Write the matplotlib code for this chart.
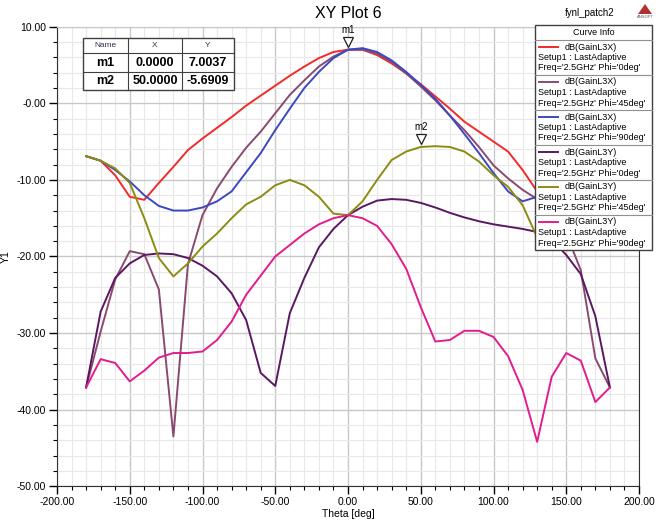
import numpy as np
import matplotlib
matplotlib.use("Agg")
import matplotlib.pyplot as plt
from matplotlib.patches import Rectangle, Polygon
from matplotlib.transforms import offset_copy

plt.rcParams['font.family'] = ['Liberation Sans', 'DejaVu Sans']

# theta sample points [deg]
theta = [-180, -170, -160, -150, -140, -130, -120, -110, -100, -90,
         -80, -70, -60, -50, -40, -30, -20, -10, 0, 10,
         20, 30, 40, 50, 60, 70, 80, 90, 100, 110,
         120, 130, 140, 150, 160, 170, 180]

# dB(GainL3X) Phi=0deg
l3x_0 = [-6.9, -7.5, -9.4, -12.2, -12.6, -10.4, -8.3, -6.1, -4.6, -3.2,
         -1.8, -0.3, 1.0, 2.3, 3.6, 4.8, 5.9, 6.7, 7.0, 7.0,
         6.3, 5.2, 3.9, 2.5, 0.9, -0.7, -2.4, -3.7, -5.0, -6.3,
         -8.7, -11.5, -10.2, -9.0, -8.0, -7.4, -7.0]
# dB(GainL3X) Phi=45deg
l3x_45 = [-37.1, -29.8, -23.0, -19.3, -19.7, -24.3, -43.5, -21.0, -14.6, -11.1,
          -8.3, -5.8, -3.7, -1.3, 1.1, 3.0, 4.8, 6.1, 7.0, 7.0,
          6.5, 5.4, 3.9, 2.2, 0.4, -1.6, -3.5, -5.7, -8.1, -9.8,
          -11.3, -12.5, -14.0, -17.0, -21.8, -33.3, -37.1]
# dB(GainL3X) Phi=90deg
l3x_90 = [-6.9, -7.5, -8.7, -10.2, -12.0, -13.4, -14.0, -14.0, -13.6, -12.8,
          -11.5, -9.0, -6.5, -3.5, -0.7, 2.0, 4.1, 5.9, 7.0, 7.2,
          6.7, 5.6, 4.1, 2.4, 0.6, -1.6, -4.0, -6.5, -9.1, -11.5,
          -12.8, -12.2, -11.0, -10.0, -9.0, -8.0, -7.0]
# dB(GainL3Y) Phi=0deg
l3y_0 = [-37.1, -27.2, -22.8, -20.9, -19.8, -19.6, -19.7, -20.2, -21.2, -22.6,
         -24.8, -28.3, -35.2, -36.9, -27.4, -22.8, -18.8, -16.4, -14.6, -13.5,
         -12.7, -12.5, -12.6, -13.0, -13.6, -14.3, -14.9, -15.4, -15.8, -16.1,
         -16.4, -16.8, -17.8, -19.8, -22.3, -27.8, -37.1]
# dB(GainL3Y) Phi=45deg
l3y_45 = [-6.9, -7.5, -8.5, -10.4, -15.0, -20.2, -22.6, -20.9, -18.7, -17.0,
          -15.0, -13.2, -12.2, -10.7, -10.0, -10.7, -12.2, -14.4, -14.6, -12.8,
          -10.0, -7.4, -6.3, -5.7, -5.6, -5.7, -6.3, -7.6, -9.4, -10.9,
          -13.3, -17.5, -15.0, -12.0, -9.5, -7.5, -7.0]
# dB(GainL3Y) Phi=90deg
l3y_90 = [-37.1, -33.4, -33.9, -36.3, -34.9, -33.2, -32.6, -32.6, -32.4, -30.9,
          -28.5, -25.0, -22.5, -20.0, -18.5, -17.0, -15.8, -15.0, -14.6, -15.0,
          -16.0, -18.4, -21.6, -26.6, -31.1, -30.9, -29.7, -29.7, -30.5, -33.0,
          -37.4, -44.2, -35.7, -32.6, -33.6, -39.0, -37.1]

series = [l3x_0, l3x_45, l3x_90, l3y_0, l3y_45, l3y_90]
names = ['dB(GainL3X)', 'dB(GainL3X)', 'dB(GainL3X)',
         'dB(GainL3Y)', 'dB(GainL3Y)', 'dB(GainL3Y)']
phis = ['0deg', '45deg', '90deg', '0deg', '45deg', '90deg']
colors = ['#F22A2A', '#8A4A70', '#3C48C2', '#5A1862', '#8C8C12', '#E31C8E']

# markers
mk_names = ['m1', 'm2']
mk_x = [0.0, 50.0]
mk_y = [7.0037, -5.6909]

xticks = [-200, -150, -100, -50, 0, 50, 100, 150, 200]
xticklabels = ['-200.00', '-150.00', '-100.00', '-50.00', '0.00',
               '50.00', '100.00', '150.00', '200.00']
yticks = [10, 0, -10, -20, -30, -40, -50]
yticklabels = ['10.00', '-0.00', '-10.00', '-20.00', '-30.00', '-40.00', '-50.00']

W, H = 656, 523
fig = plt.figure(figsize=(W / 100, H / 100), dpi=100)


def fp(x, y):
    # pixel (top-left origin) -> figure fraction
    return x / W, 1 - y / H


ax = fig.add_axes([57 / W, 1 - 486.3 / H, 582 / W, 459.6 / H])
for s, c in zip(series, colors):
    ax.plot(theta, s, color=c, lw=1.4, zorder=3)

ax.set_xlim(-200, 200)
ax.set_ylim(-50, 10)
ax.set_xticks(xticks)
ax.set_xticklabels(xticklabels)
ax.set_yticks(yticks)
ax.set_yticklabels(yticklabels)
ax.set_xticks(np.arange(-200, 201, 10), minor=True)
ax.set_yticks(np.arange(-50, 11, 2), minor=True)
ax.grid(which='major', color='#C8C8C8', lw=1.0, zorder=0)
ax.grid(which='minor', color='#E8E8E8', lw=0.8, zorder=0)
ax.set_axisbelow(True)
ax.tick_params(which='major', direction='out', length=6, width=1, labelsize=7.5, pad=2)
ax.tick_params(which='minor', direction='out', length=3, width=0.8)
ax.tick_params(top=False, right=False, which='both')
for sp in ['left', 'bottom', 'right']:
    ax.spines[sp].set_color('#303030')
ax.spines['top'].set_color('#C8C8C8')
ax.set_xlabel('Theta [deg]', fontsize=7.5, labelpad=1)
ax.set_ylabel('Y1', fontsize=7.5, labelpad=4)

# marker triangles
for n, mx, my in zip(mk_names, mk_x, mk_y):
    tri = offset_copy(ax.transData, fig=fig, x=0, y=8, units='dots')
    ax.plot([mx], [my], marker='v', ms=7, mfc='white', mec='#202020', mew=0.9,
            transform=tri, zorder=5)
    lab = offset_copy(ax.transData, fig=fig, x=0, y=15, units='dots')
    ax.text(mx, my, n, transform=lab, fontsize=7, ha='center', va='bottom', zorder=5)

# title and header texts
fig.text(*fp(348, 13), 'XY Plot 6', fontsize=11.5, ha='center', va='center')
fig.text(*fp(590, 13), 'fynl_patch2', fontsize=7, ha='center', va='center')
logo = Polygon([fp(638, 14), fp(652, 14), fp(645, 4)], closed=True,
               transform=fig.transFigure, fc='#B03030', ec='none')
fig.patches.append(logo)
fig.text(*fp(645, 17), 'ANSOFT', fontsize=3, ha='center', va='center', color='#555555')

# marker table
tx = [83, 128, 182, 234]
ty = [38, 53, 72, 90]
fig.patches.append(Rectangle(fp(tx[0], ty[-1]), (tx[-1] - tx[0]) / W, (ty[-1] - ty[0]) / H,
                             transform=fig.transFigure, fc='white', ec='#404040', lw=1.0, zorder=6))
for x in tx[1:-1]:
    fig.add_artist(plt.Line2D([x / W, x / W], [1 - ty[0] / H, 1 - ty[-1] / H],
                              transform=fig.transFigure, color='#404040', lw=0.8, zorder=7))
for y in ty[1:-1]:
    fig.add_artist(plt.Line2D([tx[0] / W, tx[-1] / W], [1 - y / H, 1 - y / H],
                              transform=fig.transFigure, color='#404040', lw=0.8, zorder=7))
hdr = ['Name', 'X', 'Y']
for i, h in enumerate(hdr):
    fig.text(*fp((tx[i] + tx[i + 1]) / 2, (ty[0] + ty[1]) / 2), h, fontsize=6,
             ha='center', va='center', zorder=8, color='#303050')
for r, (n, mx, my) in enumerate(zip(mk_names, mk_x, mk_y)):
    yc = (ty[r + 1] + ty[r + 2]) / 2
    for i, t in enumerate([n, '%.4f' % mx, '%.4f' % my]):
        fig.text(*fp((tx[i] + tx[i + 1]) / 2, yc), t, fontsize=9, fontweight='bold',
                 ha='center', va='center', zorder=8)

# curve info box
lx0, lx1 = 535, 652
ly = [25, 40, 75, 110, 145, 180, 215, 250]
fig.patches.append(Rectangle(fp(lx0, ly[-1]), (lx1 - lx0) / W, (ly[-1] - ly[0]) / H,
                             transform=fig.transFigure, fc='white', ec='#404040', lw=1.0, zorder=6))
for y in ly[1:-1]:
    fig.add_artist(plt.Line2D([lx0 / W, lx1 / W], [1 - y / H, 1 - y / H],
                              transform=fig.transFigure, color='#909090', lw=0.8, zorder=7))
fig.text(*fp((lx0 + lx1) / 2, 32.5), 'Curve Info', fontsize=6.5, ha='center', va='center', zorder=8)
for i, (n, p, c) in enumerate(zip(names, phis, colors)):
    top = ly[i + 1]
    fig.add_artist(plt.Line2D([539 / W, 558 / W], [1 - (top + 7) / H] * 2,
                              transform=fig.transFigure, color=c, lw=1.4, zorder=8))
    fig.text(*fp(565, top + 7), n, fontsize=6.5, ha='left', va='center', zorder=8)
    fig.text(*fp(538, top + 17.5), 'Setup1 : LastAdaptive', fontsize=6.5,
             ha='left', va='center', zorder=8)
    fig.text(*fp(538, top + 28), "Freq='2.5GHz' Phi='%s'" % p, fontsize=6.5,
             ha='left', va='center', zorder=8)

fig.savefig('out.png', dpi=100)
